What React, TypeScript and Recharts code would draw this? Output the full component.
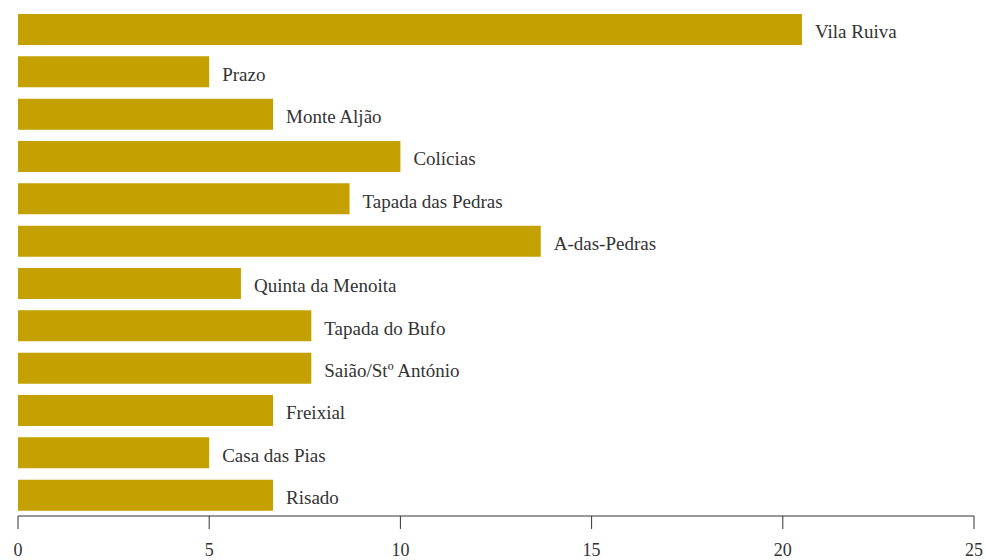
import { BarChart, Bar, XAxis, YAxis, LabelList } from 'recharts';

const sites = [
  'Vila Ruiva',
  'Prazo',
  'Monte Aljão',
  'Colícias',
  'Tapada das Pedras',
  'A-das-Pedras',
  'Quinta da Menoita',
  'Tapada do Bufo',
  'Saião/Stº António',
  'Freixial',
  'Casa das Pias',
  'Risado',
];
const counts = [20.5, 5, 6.67, 10, 8.67, 13.67, 5.83, 7.67, 7.67, 6.67, 5, 6.67];
const xTicks = [0, 5, 10, 15, 20, 25];

const data = sites.map((site, i) => ({ site, value: counts[i] }));

export default function App() {
  return (
    <div style={{ position: 'fixed', left: 0, top: 0, width: 986, height: 560, background: '#fff' }}>
      <BarChart
        width={986}
        height={560}
        data={data}
        layout="vertical"
        margin={{ top: 8, right: 12, left: 18, bottom: 0 }}
      >
        <XAxis
          type="number"
          domain={[0, 25]}
          ticks={xTicks}
          axisLine={{ stroke: '#333' }}
          tickLine={{ stroke: '#333' }}
          tickSize={13}
          tickMargin={14}
          height={44}
          tick={{ fontSize: 18, fill: '#333', fontFamily: 'Liberation Serif' }}
        />
        <YAxis type="category" dataKey="site" hide />
        <Bar dataKey="value" fill="#C4A000" barSize={31} isAnimationActive={false}>
          <LabelList
            dataKey="site"
            position="right"
            offset={13}
            dy={2}
            style={{ fontSize: 19, fill: '#333', fontFamily: 'Liberation Serif' }}
          />
        </Bar>
      </BarChart>
    </div>
  );
}
